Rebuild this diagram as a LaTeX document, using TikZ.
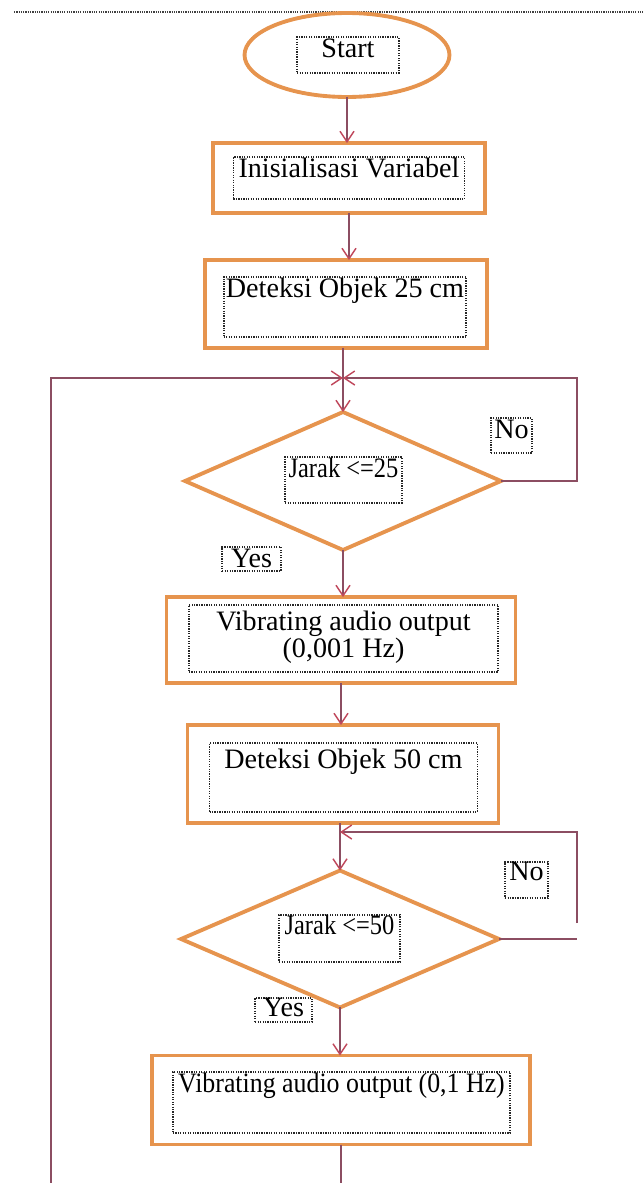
\documentclass[tikz,border=0pt]{standalone}
\usepackage{fontspec}
\setmainfont{Liberation Serif}
\usepackage{graphicx}
\usetikzlibrary{arrows.meta, shapes.geometric}

\definecolor{boxorange}{RGB}{230,148,78}
\definecolor{flowline}{RGB}{140,78,98}
\definecolor{flowtip}{RGB}{192,72,92}

% text frame: width, height, text set at the top
\newcommand{\boxtext}[4][11.5pt]{\parbox[c][#3][t]{#2}{\centering\rule{0pt}{#1}#4}}

\tikzset{
  shapeline/.style={draw=boxorange, line width=2.2pt, inner sep=0pt, outer sep=0pt},
  procbox/.style={shapeline, rectangle},
  term/.style={shapeline, ellipse},
  decision/.style={shapeline, diamond},
  txtframe/.style={draw=black!85, dash pattern=on 0.7pt off 0.7pt, line width=0.9pt, inner sep=0pt},
  flow/.style={draw=flowline, line width=0.8pt, -{Straight Barb[length=6pt,width=8pt,color=flowtip]}},
  loopline/.style={draw=flowline, line width=0.8pt},
}

\begin{document}
\begin{tikzpicture}[x=0.02cm, y=-0.02cm, font=\fontsize{16}{19}\selectfont]
\useasboundingbox (0,0) rectangle (644,1183);

% page rule
\draw[black!75, line width=1.6pt, dash pattern=on 0.7pt off 0.6pt] (14,12) -- (644,12);

% shapes
\node[term, minimum width=4.1cm, minimum height=1.68cm] (start) at (347,55) {};
\node[procbox, minimum width=5.44cm, minimum height=1.4cm] (init) at (349,178) {};
\node[procbox, minimum width=5.64cm, minimum height=1.76cm] (det25) at (346,304) {};
\node[decision, minimum width=6.32cm, minimum height=2.76cm] (jarak25) at (343,481) {};
\node[procbox, minimum width=6.98cm, minimum height=1.72cm] (vib1) at (341,640) {};
\node[procbox, minimum width=6.22cm, minimum height=1.96cm] (det50) at (343,774) {};
\node[decision, minimum width=6.36cm, minimum height=2.74cm] (jarak50) at (340,939) {};
\node[procbox, minimum width=7.56cm, minimum height=1.78cm] (vib2) at (341,1100) {};

% text frames
\node[txtframe] (start-txt) at (348,55) {\boxtext{57.8pt}{20.4pt}{Start}};
\node[txtframe] (init-txt) at (349,178) {\boxtext{131.5pt}{23.8pt}{Inisialisasi Variabel}};
\node[txtframe] (det25-txt) at (345,307) {\boxtext{138pt}{34pt}{Deteksi Objek 25 cm}};
\node[txtframe] (jarak25-txt) at (343.5,480) {\boxtext{66.3pt}{26pt}{\scalebox{0.87}[1]{Jarak <=25}}};
\node[txtframe] (no1-txt) at (511.5,435.5) {\boxtext{23.2pt}{19.8pt}{No}};
\node[txtframe] (yes1-txt) at (251.5,559) {\boxtext{33.4pt}{13.6pt}{Yes}};
\node[txtframe, font=\fontsize{16}{15.5}\selectfont] (vib1-txt) at (343.5,638.5)
  {\boxtext[14.2pt]{176pt}{38pt}{Vibrating audio output\\(0,001 Hz)}};
\node[txtframe] (det50-txt) at (343.5,777.5) {\boxtext[14.2pt]{152.5pt}{39pt}{Deteksi Objek 50 cm}};
\node[txtframe] (jarak50-txt) at (339.5,938.5) {\boxtext[10.5pt]{68.6pt}{26.6pt}{\scalebox{0.87}[1]{Jarak <=50}}};
\node[txtframe] (no2-txt) at (526.5,880) {\boxtext[10.5pt]{24.4pt}{20.4pt}{No}};
\node[txtframe] (yes2-txt) at (283.5,1010) {\boxtext[10pt]{32.3pt}{13.6pt}{Yes}};
\node[txtframe] (vib2-txt) at (341.5,1102.5) {\boxtext{192pt}{34.6pt}{\scalebox{0.92}[1]{Vibrating audio output (0,1 Hz)}}};

% loop points
\coordinate (merge1) at (343,378);
\coordinate (merge2) at (340,832);
\coordinate (no1-r) at (577,481);
\coordinate (no2-r) at (577,939);
\coordinate (no2-gap) at (577,923);
\coordinate (loop-l) at (51,1183);
\coordinate (loop-b) at (341,1183);

% connectors
\draw[flow] (start.south) -- (start.south |- init.north);
\draw[flow] (init.south) -- (init.south |- det25.north);
\draw[flow] (merge1 |- det25.south) -- (jarak25.north);
\draw[flow] (loop-l) |- (merge1);
\draw[flow] (jarak25.east) -- (no1-r) |- (merge1);
\draw[flow] (jarak25.south) -- (jarak25.south |- vib1.north);
\draw[flow] (vib1.south) -- (vib1.south |- det50.north);
\draw[flow] (merge2 |- det50.south) -- (jarak50.north);
\draw[loopline] (jarak50.east) -- (no2-r);
\draw[flow] (no2-gap) |- (merge2);
\draw[flow] (jarak50.south) -- (jarak50.south |- vib2.north);
\draw[loopline] (vib2.south) -- (loop-b);
\end{tikzpicture}
\end{document}
